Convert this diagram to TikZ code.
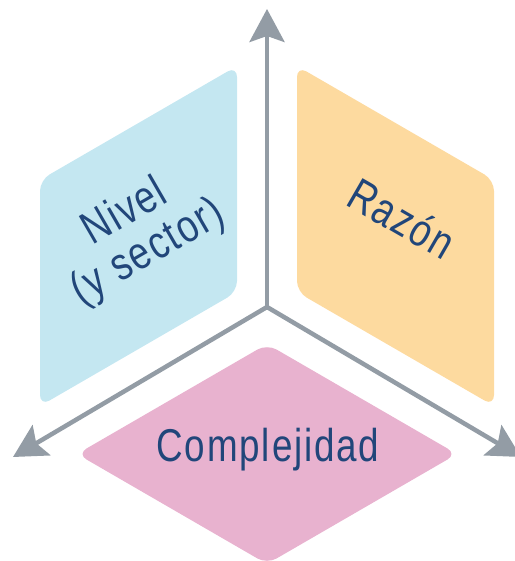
\documentclass[tikz,border=0pt]{standalone}
\usepackage{fontspec}
\setmainfont{Liberation Sans}
\newfontfamily\labfont[FakeStretch=0.8,LetterSpace=4]{Liberation Sans}
\usetikzlibrary{arrows.meta}
\definecolor{axisgray}{HTML}{939CA5}
\definecolor{cblue}{HTML}{C4E7F1}
\definecolor{corange}{HTML}{FDDA9F}
\definecolor{cpink}{HTML}{E8B2CF}
\definecolor{ctext}{HTML}{21467A}
\begin{document}
\begin{tikzpicture}[x=1pt,y=-1pt,
  face/.style={rounded corners=11pt},
  axis/.style={draw=axisgray, line width=4.5pt, -{Stealth[length=33pt,width=35pt,inset=6pt]}},
  lab/.style={text=ctext, font=\labfont\fontsize{46}{46}\selectfont, align=center, inner sep=0pt}]
\useasboundingbox (0,0) rectangle (514,561);
\fill[cblue, face] (40,180) -- (237,66) -- (237,292) -- (40,406) -- cycle;
\fill[corange, face] (494,180) -- (297,66) -- (297,292) -- (494,406) -- cycle;
\fill[cpink, face] (77,454) -- (267,344) -- (457,454) -- (267,564) -- cycle;
\coordinate (o) at (267,307);
\coordinate (top) at (267,9);
\coordinate (left) at (13,457);
\coordinate (right) at (521,457);
\draw[axis] (o) -- (top);
\draw[axis] (o) -- (left);
\draw[axis] (o) -- (right);
\node[lab] (comp) at (268,450) {Complejidad};
\node[lab, rotate=-30] (raz) at (402,218) {Razón};
\node[lab, rotate=30] (niv) at (137,233) {Nivel\\(y sector)};
\end{tikzpicture}
\end{document}
